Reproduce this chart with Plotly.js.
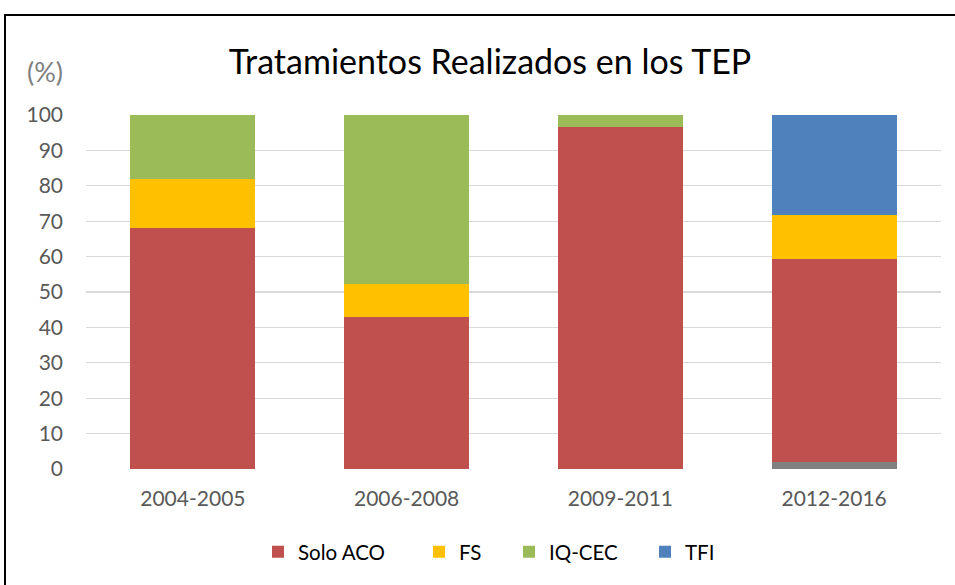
<!DOCTYPE html>
<html>
<head>
<meta charset="utf-8">
<script src="https://cdn.plot.ly/plotly-3.0.1.min.js"></script>
<style>
  html, body { margin: 0; padding: 0; background: #fff; overflow: hidden; }
  #chart { position: absolute; left: 0; top: 0; width: 955px; height: 585px; }
  #frame { position: absolute; left: 4px; top: 14px; width: 1000px; height: 1000px;
           border-left: 2px solid #000; border-top: 2px solid #000; pointer-events: none; }
</style>
</head>
<body>
<div id="chart"></div>
<div id="frame"></div>
<script>
const categories = ["2004-2005", "2006-2008", "2009-2011", "2012-2016"];
const otro     = [0, 0, 0, 2.1];
const soloACO  = [68.2, 42.9, 96.6, 57.2];
const fs       = [13.6, 9.5, 0, 12.5];
const iqcec    = [18.2, 47.6, 3.4, 0];
const tfi      = [0, 0, 0, 28.2];
const yTicks   = [0, 10, 20, 30, 40, 50, 60, 70, 80, 90, 100];

const font = "Lato, 'Open Sans', sans-serif";

function series(name, vals, color, show, legendId) {
  const t = { type: "bar", name: name, x: categories, y: vals,
              marker: { color: color, line: { width: 0 } },
              showlegend: show, hoverinfo: "name+y" };
  if (legendId) t.legend = legendId;
  return t;
}

const data = [
  series("Otro", otro, "#808080", false),
  series("Solo ACO", soloACO, "#C0504D", true, "legend"),
  series("FS", fs, "#FFC000", true, "legend2"),
  series("IQ-CEC", iqcec, "#9BBB59", true, "legend3"),
  series("TFI", tfi, "#4F81BD", true, "legend4")
];

function leg(px) {
  return { orientation: "h", x: (px - 86) / 855, xanchor: "left", y: -0.234, yanchor: "middle",
           font: { size: 20.5, color: "#000" }, bgcolor: "rgba(0,0,0,0)" };
}

const layout = {
  width: 955, height: 585,
  barmode: "stack",
  bargap: 0.415,
  paper_bgcolor: "#fff", plot_bgcolor: "#fff",
  margin: { l: 86, r: 14, t: 115, b: 116, pad: 0 },
  font: { family: font, color: "#595959", size: 21 },
  title: { text: "Tratamientos Realizados en los TEP",
           font: { family: font, size: 34, color: "#000" },
           xref: "container", yref: "container",
           x: 490 / 955, xanchor: "center", y: 1 - 62 / 585, yanchor: "middle" },
  xaxis: { type: "category", showgrid: false, showline: false, zeroline: false,
           ticks: "", ticklabelstandoff: 15, tickfont: { size: 21, color: "#595959" } },
  yaxis: { range: [0, 100], tickvals: yTicks, ticktext: yTicks.map(String),
           showgrid: true, gridcolor: "#d9d9d9", gridwidth: 1.3,
           zeroline: false, showline: false, ticks: "", ticklabelstandoff: 22,
           tickfont: { size: 21, color: "#595959" } },
  legend: leg(258),
  legend2: leg(419),
  legend3: leg(509),
  legend4: leg(645),
  annotations: [{ text: "(%)", xref: "paper", yref: "paper",
                  x: (45 - 86) / 855, y: (469 - 71) / 354, xanchor: "center", yanchor: "middle",
                  showarrow: false, font: { family: font, size: 27, color: "#808080" } }]
};

Plotly.newPlot("chart", data, layout, { displayModeBar: false, staticPlot: true });
</script>
</body>
</html>
